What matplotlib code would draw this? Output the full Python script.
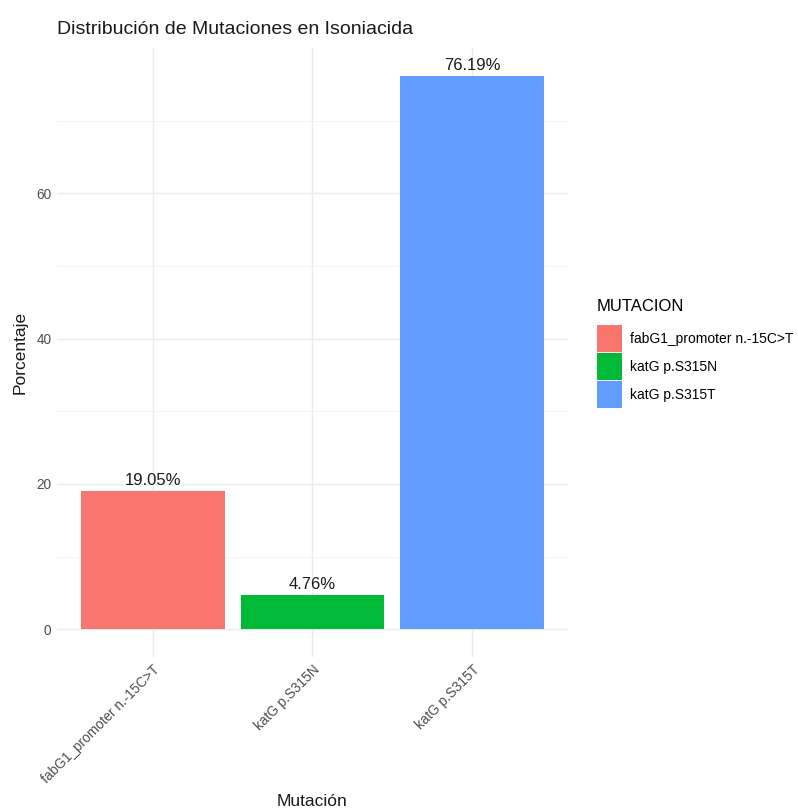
import matplotlib.pyplot as plt
from matplotlib.patches import Patch
from matplotlib.ticker import MultipleLocator

plt.rcParams['font.family'] = ['Liberation Sans', 'DejaVu Sans']

# data
mutaciones = ['fabG1_promoter n.-15C>T', 'katG p.S315N', 'katG p.S315T']
porcentaje = [19.05, 4.76, 76.19]
colores = ['#F8766D', '#00BA38', '#619CFF']

fig = plt.figure(figsize=(7.98, 8.11), dpi=100)
ax = fig.add_axes([0.0714, 0.19, 0.6404, 0.751])

x = list(range(1, len(mutaciones) + 1))
ax.bar(x, porcentaje, width=0.9, color=colores, zorder=2)
for xi, p in zip(x, porcentaje):
    ax.annotate(f'{p:.2f}%', (xi, p), xytext=(0, 2), textcoords='offset points',
                ha='center', va='bottom', fontsize=12, color='#1a1a1a')

ymax = max(porcentaje)
ax.set_ylim(-0.05 * ymax, 1.05 * ymax)
ax.set_xlim(0.4, 3.6)
ax.yaxis.set_major_locator(MultipleLocator(20))
ax.yaxis.set_minor_locator(MultipleLocator(10))
ax.set_xticks(x)
ax.set_xticklabels(mutaciones, rotation=45, ha='right', rotation_mode='anchor')

# minimal theme
for s in ax.spines.values():
    s.set_visible(False)
ax.grid(which='major', color='#EBEBEB', linewidth=1.0, zorder=0)
ax.grid(which='minor', axis='y', color='#F3F3F3', linewidth=0.6, zorder=0)
ax.tick_params(which='both', length=0, labelsize=9.8, labelcolor='#4d4d4d')
ax.tick_params(axis='y', pad=4)
ax.tick_params(axis='x', pad=4)

ax.set_xlabel('Mutación', fontsize=12.5, color='#1a1a1a', labelpad=6)
ax.set_ylabel('Porcentaje', fontsize=12.5, color='#1a1a1a', labelpad=6)
ax.set_title('Distribución de Mutaciones en Isoniacida', fontsize=14,
             loc='left', color='#1a1a1a', pad=10)

handles = [Patch(facecolor=c, label=m) for c, m in zip(colores, mutaciones)]
leg = fig.legend(handles=handles, title='MUTACION', loc='center left',
                 bbox_to_anchor=(0.7325, 0.564), frameon=False, fontsize=10,
                 title_fontsize=12, handlelength=1.8, handleheight=2.6,
                 labelspacing=0.07, handletextpad=0.55, alignment='left')
# more room between legend title and keys
leg._legend_box.sep = 8

fig.savefig('out.png', dpi=100, facecolor='white')
